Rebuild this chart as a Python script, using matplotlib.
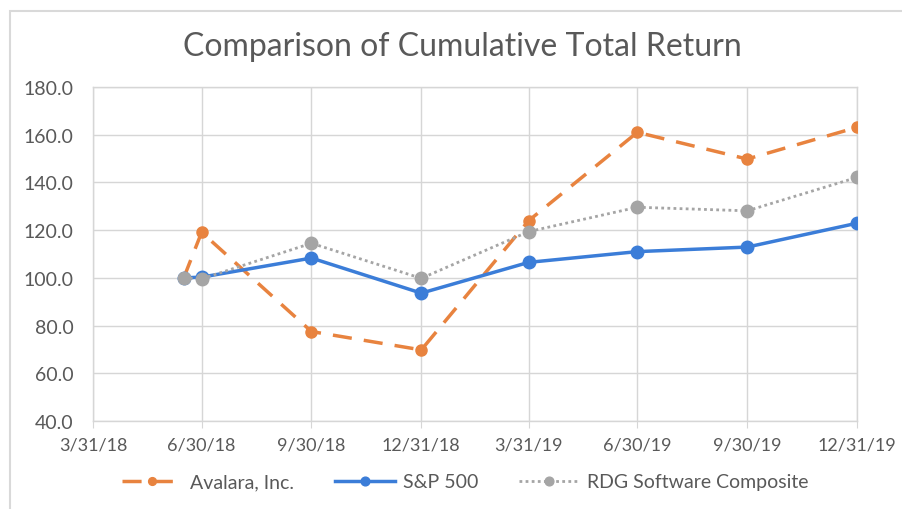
import pandas as pd
import matplotlib
matplotlib.use("Agg")
import matplotlib.pyplot as plt
from matplotlib.patches import Rectangle

plt.rcParams["font.family"] = ["Lato", "DejaVu Sans"]

# data (index = 100 at IPO date)
dates = pd.to_datetime(["2018-06-15", "2018-06-30", "2018-09-30", "2018-12-31",
                        "2019-03-31", "2019-06-30", "2019-09-30", "2019-12-31"])
avalara = [100.0, 119.1, 77.5, 69.8, 124.0, 161.0, 149.8, 163.1]
sp500 = [100.0, 100.3, 108.3, 93.6, 106.5, 111.0, 112.9, 122.9]
rdg = [100.0, 99.6, 114.5, 99.8, 119.4, 129.6, 128.1, 142.1]

tick_dates = pd.to_datetime(["2018-03-31", "2018-06-30", "2018-09-30", "2018-12-31",
                             "2019-03-31", "2019-06-30", "2019-09-30", "2019-12-31"])
tick_labels = ["3/31/18", "6/30/18", "9/30/18", "12/31/18",
               "3/31/19", "6/30/19", "9/30/19", "12/31/19"]

W, H = 902, 510
fig = plt.figure(figsize=(W / 100, H / 100), dpi=100)
ax = fig.add_axes([93 / W, 1 - 422 / H, (857 - 93) / W, (422 - 88) / H])

# outer chart frame (cropped on right/bottom in the reference)
fig.patches.append(Rectangle((10 / W, -0.05), 1.2, 1 - 12 / H + 0.05,
                             transform=fig.transFigure, fill=False,
                             edgecolor="#d9d9d9", lw=1.5))

orange = "#e8833f"
blue = "#3b7dd8"
grey = "#a5a5a5"
text_col = "#595959"

ax.plot(dates, avalara, color=orange, lw=2.5, ls=(0, (5.5, 3.5)), marker="o",
        ms=8, label="Avalara, Inc.", zorder=3)
ax.plot(dates, sp500, color=blue, lw=2.5, marker="o", ms=9,
        label="S&P 500", zorder=4)
ax.plot(dates, rdg, color=grey, lw=2, ls=(0, (1, 1.2)), marker="o", ms=9,
        label="RDG Software Composite", zorder=5)

ax.set_xlim(tick_dates[0], tick_dates[-1])
ax.set_ylim(40, 180)
ax.set_yticks(range(40, 181, 20))
ax.set_yticklabels([f"{v:.1f}" for v in range(40, 181, 20)])
ax.set_xticks(tick_dates)
ax.set_xticklabels(tick_labels)

ax.grid(True, color="#d6d6d6", lw=1)
ax.set_axisbelow(True)
for side in ["top", "right", "left", "bottom"]:
    ax.spines[side].set_color("#d6d6d6")
    ax.spines[side].set_linewidth(1)
ax.tick_params(axis="y", length=0, pad=14, labelsize=14, labelcolor=text_col)
ax.tick_params(axis="x", length=5, color="#d6d6d6", pad=6, labelsize=13,
               labelcolor=text_col)

fig.text(462 / W, 1 - 47 / H, "Comparison of Cumulative Total Return",
         ha="center", va="center", fontsize=23, color=text_col)

fig.legend(loc="center", bbox_to_anchor=(465 / W, 1 - 483 / H), ncol=3,
           frameon=False, fontsize=14, handlelength=3.1, handletextpad=0.4,
           columnspacing=2.1, markerscale=0.7, labelcolor=text_col)

fig.savefig("out.png", dpi=100)
